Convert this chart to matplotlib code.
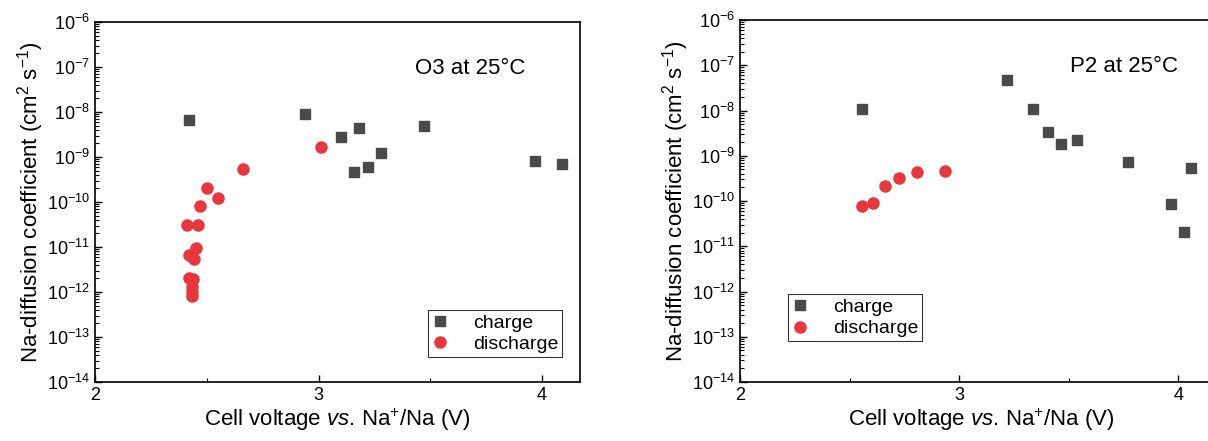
import numpy as np
import matplotlib.pyplot as plt
from matplotlib.ticker import LogLocator, NullFormatter, FixedLocator

plt.rcParams['font.family'] = ['Liberation Sans', 'DejaVu Sans']
plt.rcParams['mathtext.fontset'] = 'custom'
plt.rcParams['mathtext.rm'] = 'Liberation Sans'
plt.rcParams['mathtext.it'] = 'Liberation Sans:italic'

# O3 data
o3_charge_v = [2.42, 2.94, 3.10, 3.16, 3.18, 3.22, 3.28, 3.47, 3.97, 4.09]
o3_charge_d = [6.5e-9, 8.9e-9, 2.8e-9, 4.7e-10, 4.4e-9, 5.9e-10, 1.2e-9, 5.0e-9, 8.0e-10, 7.1e-10]
o3_dis_v = [3.01, 2.66, 2.50, 2.55, 2.47, 2.41, 2.46, 2.45, 2.42, 2.445, 2.42, 2.44, 2.435, 2.435, 2.435]
o3_dis_d = [1.7e-9, 5.4e-10, 2.1e-10, 1.2e-10, 8.0e-11, 3.1e-11, 3.1e-11, 9.5e-12, 6.8e-12, 5.3e-12,
            2.0e-12, 1.9e-12, 1.3e-12, 1.0e-12, 8.0e-13]

# P2 data
p2_charge_v = [2.556, 3.217, 3.336, 3.407, 3.465, 3.538, 3.77, 4.057, 3.965, 4.028]
p2_charge_d = [1.1e-8, 4.7e-8, 1.06e-8, 3.3e-9, 1.8e-9, 2.2e-9, 7.4e-10, 5.3e-10, 8.7e-11, 2.1e-11]
p2_dis_v = [2.556, 2.608, 2.664, 2.726, 2.808, 2.935]
p2_dis_d = [7.8e-11, 9.0e-11, 2.1e-10, 3.3e-10, 4.3e-10, 4.7e-10]

W, H = 1208, 441
fig = plt.figure(figsize=(W / 100, H / 100), dpi=100)

sq_color = '#4a4a4a'
ci_color = '#e8373c'


def setup(ax, label, label_xy, leg_loc):
    ax.set_yscale('log')
    ax.set_ylim(1e-14, 1e-6)
    ax.yaxis.set_major_locator(LogLocator(base=10, numticks=20))
    ax.yaxis.set_minor_locator(LogLocator(base=10, subs=np.arange(2, 10), numticks=20))
    ax.yaxis.set_minor_formatter(NullFormatter())
    ax.xaxis.set_major_locator(FixedLocator([2, 3, 4]))
    ax.xaxis.set_minor_locator(FixedLocator([2.5, 3.5]))
    ax.xaxis.set_major_formatter(plt.FuncFormatter(lambda v, p: f'{v:g}'))
    ax.tick_params(which='both', direction='in', top=False, right=False, labelsize=13)
    ax.tick_params(which='major', length=5, width=1)
    ax.tick_params(which='minor', length=3, width=0.8)
    for s in ax.spines.values():
        s.set_linewidth(1.2)
    ax.set_xlabel(r'Cell voltage $\it{vs}$. Na$^{+}$/Na (V)', fontsize=16, labelpad=2)
    ax.set_ylabel(r'Na-diffusion coefficient (cm$^{2}$ s$^{-1}$)', fontsize=16, labelpad=1)
    ax.text(label_xy[0], label_xy[1], label, transform=ax.transAxes, fontsize=16)
    leg = ax.legend(loc='upper left', bbox_to_anchor=leg_loc, fontsize=14, frameon=True,
                    fancybox=False, edgecolor='black', handlelength=0.8, handletextpad=1.3,
                    borderpad=0.2, labelspacing=0.2, borderaxespad=0)
    leg.get_frame().set_linewidth(0.8)


ax1 = fig.add_axes([95 / W, (H - 382) / H, 485 / W, 360 / H])
ax1.plot(o3_charge_v, o3_charge_d, 's', color=sq_color, ms=7.5, label='charge', ls='none')
ax1.plot(o3_dis_v, o3_dis_d, 'o', color=ci_color, ms=8, label='discharge', ls='none')
ax1.set_xlim(2, 4.17)
setup(ax1, 'O3 at 25°C', (0.66, 0.855), (0.687, 0.2))

ax2 = fig.add_axes([740 / W, (H - 382) / H, 482 / W, 362 / H])
ax2.plot(p2_charge_v, p2_charge_d, 's', color=sq_color, ms=7.5, label='charge', ls='none')
ax2.plot(p2_dis_v, p2_dis_d, 'o', color=ci_color, ms=8, label='discharge', ls='none')
ax2.set_xlim(2, 4.2)
setup(ax2, 'P2 at 25°C', (0.685, 0.855), (0.10, 0.242))

fig.savefig('out.png', dpi=100)
